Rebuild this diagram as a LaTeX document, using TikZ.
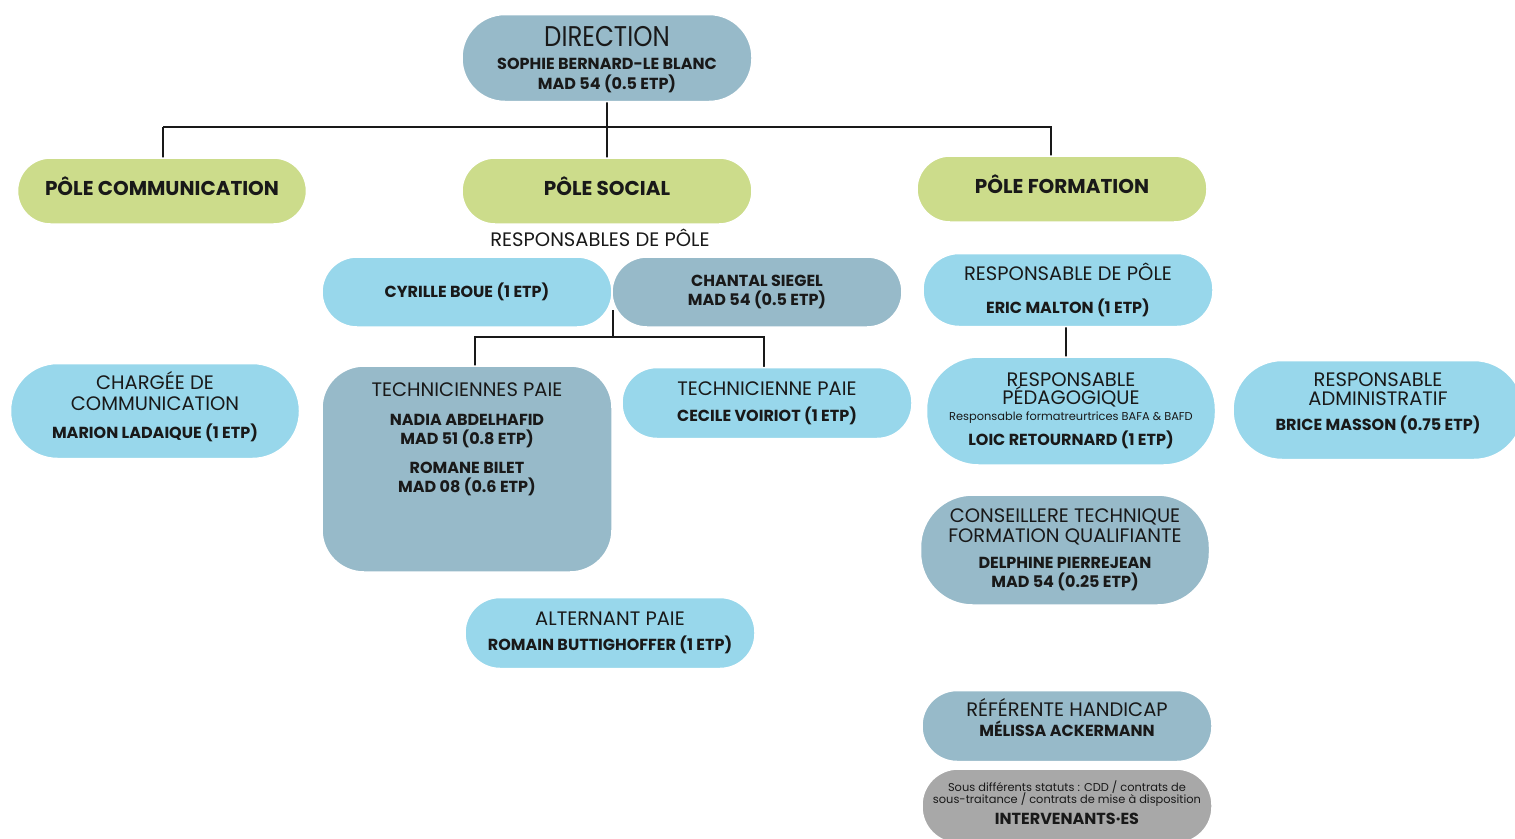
\documentclass[tikz,border=0pt]{standalone}
\usepackage{fontspec}
\setmainfont{Poppins}
\newfontfamily\dirfont{Poppins}[FakeStretch=0.86]
\definecolor{gblue}{RGB}{151,186,201}
\definecolor{lblue}{RGB}{152,215,235}
\definecolor{lgreen}{RGB}{204,220,139}
\definecolor{lgrey}{RGB}{168,168,168}
\definecolor{ink}{RGB}{25,25,25}
\newcommand{\ttl}[1]{{\fontsize{19.5}{0}\selectfont #1}}
\newcommand{\nm}[1]{{\bfseries\fontsize{16}{0}\selectfont #1}}
\newcommand{\sm}[1]{{\fontsize{11.4}{0}\selectfont #1}}
\newcommand{\tightlines}{\fontsize{10}{0}\selectfont\lineskiplimit=-\maxdimen\relax}
\tikzset{
  box/.style={draw=white, line width=1.5pt, rounded corners=#1, align=center, inner sep=0pt, text=ink, minimum width=290pt, font=\tightlines},
  box/.default=34pt,
  pole/.style={box=33pt, fill=lgreen, minimum height=66pt, text height=14pt, text depth=6pt},
  txt/.style={align=center, inner sep=0pt, text=ink, font=\tightlines},
  link/.style={draw=ink, line width=1.3pt},
}
\begin{document}
\begin{tikzpicture}[x=1pt,y=-1pt]
\useasboundingbox (0,0) rectangle (1515,838);
\fill[white] (0,0) rectangle (1515,838);
\begin{scope}
\clip (0,0) rectangle (1515,838);
% connector junctions
\coordinate (jtop) at (607,127);
\coordinate (jl) at (163,127);
\coordinate (jr) at (1051,127);
\coordinate (jrb) at (1051,158);
\coordinate (s0) at (613,310);
\coordinate (sm) at (613,337);
\coordinate (sl) at (475,337);
\coordinate (sr) at (764,337);
\coordinate (slb) at (475,368);
\coordinate (srb) at (764,370);
\coordinate (f0) at (1066,325);
\coordinate (f1) at (1066,359);
\draw[link] (607,100) -- (jtop) (jtop) -- (607,160);
\draw[link] (jl) -- (jr) -- (jrb);
\draw[link] (jl) -- (163,160);
\draw[link] (s0) -- (sm);
\draw[link] (slb) -- (sl) -- (sr) -- (srb);
\draw[link] (f0) -- (f1);

\node[box=43pt, fill=gblue, minimum height=87pt, text height=68pt, text depth=5pt] (dir) at (607,58)
  {{\dirfont\fontsize{28.5}{0}\selectfont DIRECTION}\\[23pt]\nm{SOPHIE BERNARD-LE BLANC}\\[20pt]\nm{MAD 54 (0.5 ETP)}};

\node[pole, minimum width=289pt] (pcom) at (162,191)
  {\bfseries\fontsize{20}{0}\selectfont PÔLE COMMUNICATION};
\node[pole] (psoc) at (607,191)
  {\bfseries\fontsize{20}{0}\selectfont PÔLE SOCIAL};
\node[pole] (pfor) at (1062,189)
  {\bfseries\fontsize{20}{0}\selectfont PÔLE FORMATION};

\node[txt] (resp) at (600,238) {\ttl{RESPONSABLES DE PÔLE}};

\node[box=35pt, fill=lblue, minimum height=70pt] (cyr) at (467,292) {\nm{CYRILLE BOUE (1 ETP)}};
\node[box=35pt, fill=gblue, minimum height=70pt] (cha) at (757,292) {\nm{CHANTAL SIEGEL}\\[19pt]\nm{MAD 54 (0.5 ETP)}};

\node[box=42pt, fill=gblue, minimum height=206pt] (tech) at (467,469) {};
\node[txt, anchor=north] (techtxt) at (467,383)
  {\ttl{TECHNICIENNES PAIE}\\[29pt]\nm{NADIA ABDELHAFID}\\[19pt]\nm{MAD 51 (0.8 ETP)}\\[29pt]\nm{ROMANE BILET}\\[19pt]\nm{MAD 08 (0.6 ETP)}};

\node[box=35pt, fill=lblue, minimum height=71pt] (tec1) at (767,403)
  {\ttl{TECHNICIENNE PAIE}\\[26pt]\nm{CECILE VOIRIOT (1 ETP)}};

\node[box=35pt, fill=lblue, minimum height=71pt] (alt) at (610,633)
  {\ttl{ALTERNANT PAIE}\\[25pt]\nm{ROMAIN BUTTIGHOFFER (1 ETP)}};

\node[box=47pt, fill=lblue, minimum height=95pt, minimum width=289pt, text height=60pt, text depth=5pt] (chg) at (155,411)
  {\ttl{CHARGÉE DE}\\[21pt]\ttl{COMMUNICATION}\\[28pt]\nm{MARION LADAIQUE (1 ETP)}};

\node[box=36pt, fill=lblue, minimum height=73pt] (rdp) at (1068,290)
  {\ttl{RESPONSABLE DE PÔLE}\\[33pt]\nm{ERIC MALTON (1 ETP)}};

\node[box=52pt, fill=lblue, minimum height=108pt, minimum width=289pt] (ped) at (1071,411)
  {\ttl{RESPONSABLE}\\[18pt]\ttl{PÉDAGOGIQUE}\\[16pt]\sm{Responsable formatreurtrices BAFA \& BAFD}\\[25pt]\nm{LOIC RETOURNARD (1 ETP)}};

\node[box=49pt, fill=lblue, minimum height=99pt, text height=46pt, text depth=5pt] (adm) at (1378,410)
  {\ttl{RESPONSABLE}\\[19pt]\ttl{ADMINISTRATIF}\\[25pt]\nm{BRICE MASSON (0.75 ETP)}};

\node[box=52pt, fill=gblue, minimum height=110pt, minimum width=289pt] (cons) at (1065,550)
  {\ttl{CONSEILLERE TECHNIQUE}\\[20pt]\ttl{FORMATION QUALIFIANTE}\\[26pt]\nm{DELPHINE PIERREJEAN}\\[19pt]\nm{MAD 54 (0.25 ETP)}};

\node[box=35pt, fill=gblue, minimum height=71pt, text height=26pt, text depth=5pt] (ref) at (1067,726)
  {\ttl{RÉFÉRENTE HANDICAP}\\[20pt]\nm{MÉLISSA ACKERMANN}};

\node[box=36pt, fill=lgrey, minimum height=74pt, text height=42pt, text depth=5pt] (int) at (1067,806)
  {\sm{Sous différents statuts : CDD / contrats de}\\[12pt]\sm{sous-traitance / contrats de mise à disposition}\\[21pt]\nm{INTERVENANTS·ES}};
\end{scope}
\end{tikzpicture}
\end{document}
